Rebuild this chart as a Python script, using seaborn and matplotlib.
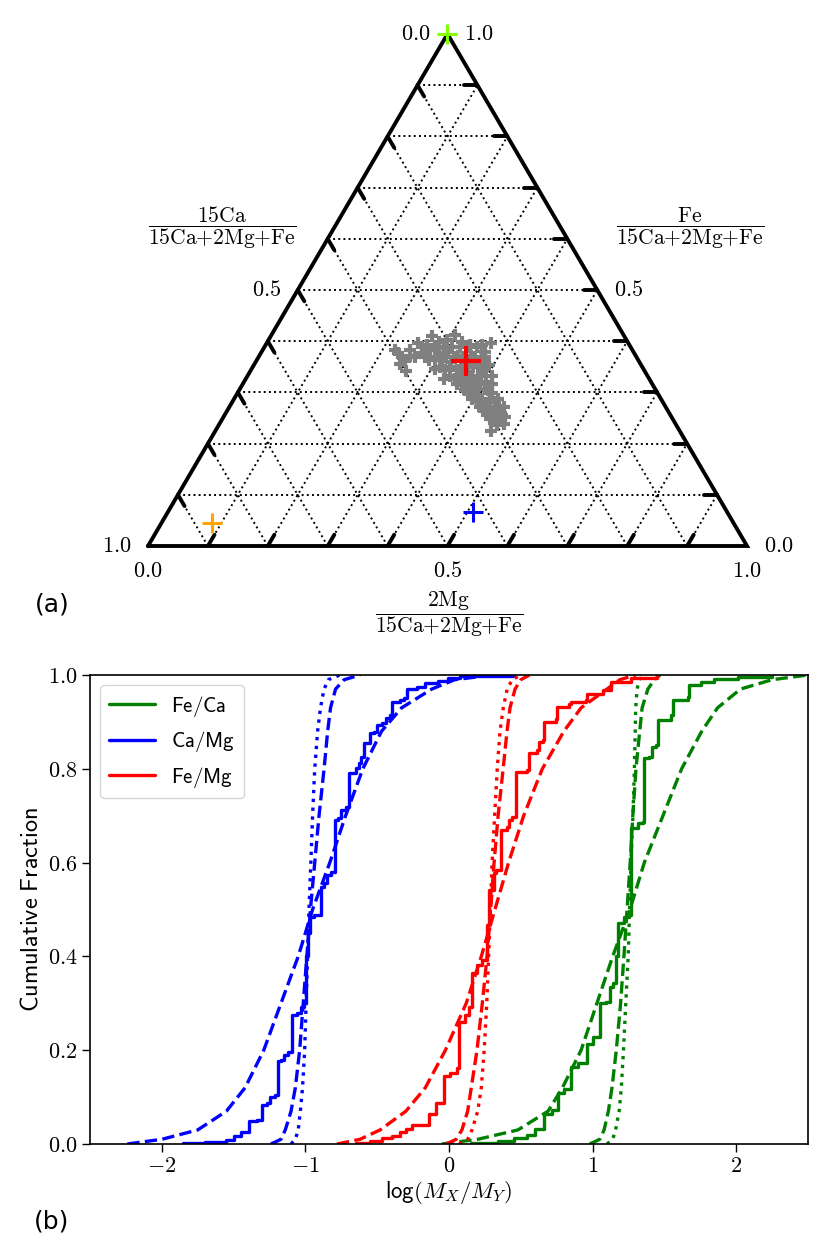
import numpy as np
import matplotlib
matplotlib.use("Agg")
import matplotlib.pyplot as plt
from matplotlib.ticker import FuncFormatter
import seaborn as sns

# ---- ternary panel: fractions of 2Mg and Fe in 15Ca+2Mg+Fe (15Ca = rest) ----
cloud_mg = [0.230, 0.249, 0.260, 0.239, 0.246, 0.253, 0.269, 0.269, 0.286, 0.298,
            0.307, 0.325, 0.342, 0.361, 0.374, 0.373, 0.269, 0.280, 0.297, 0.312,
            0.332, 0.354, 0.374, 0.287, 0.309, 0.327, 0.351, 0.373, 0.392, 0.306,
            0.324, 0.344, 0.365, 0.387, 0.407, 0.330, 0.349, 0.368, 0.387, 0.405,
            0.367, 0.385, 0.409, 0.386, 0.404, 0.425, 0.408, 0.424, 0.439, 0.427,
            0.443, 0.455, 0.447, 0.462, 0.470, 0.464, 0.474, 0.461,
            0.263, 0.285, 0.299, 0.313, 0.327, 0.340, 0.354,
            0.261, 0.278, 0.295, 0.311, 0.328, 0.342, 0.361, 0.378,
            0.313, 0.329, 0.349, 0.368, 0.388,
            0.338, 0.354, 0.374, 0.390,
            0.357, 0.376, 0.396, 0.415,
            0.377, 0.394, 0.416,
            0.397, 0.413, 0.427, 0.441,
            0.419, 0.432, 0.446, 0.458,
            0.438, 0.452, 0.463,
            0.221, 0.243, 0.251]
cloud_fe = [0.376, 0.361, 0.341, 0.369, 0.382, 0.397, 0.392, 0.410, 0.398, 0.402,
            0.412, 0.398, 0.392, 0.392, 0.397, 0.379, 0.376, 0.382, 0.376, 0.379,
            0.372, 0.372, 0.366, 0.363, 0.363, 0.359, 0.356, 0.356, 0.353, 0.346,
            0.343, 0.343, 0.340, 0.340, 0.333, 0.327, 0.327, 0.324, 0.324, 0.320,
            0.314, 0.311, 0.307, 0.298, 0.294, 0.298, 0.281, 0.278, 0.281, 0.265,
            0.262, 0.265, 0.249, 0.245, 0.252, 0.236, 0.239, 0.224,
            0.389, 0.389, 0.389, 0.389, 0.389, 0.389, 0.389,
            0.369, 0.369, 0.369, 0.369, 0.369, 0.369, 0.369, 0.369,
            0.350, 0.350, 0.350, 0.350, 0.350,
            0.333, 0.333, 0.333, 0.333,
            0.317, 0.317, 0.317, 0.317,
            0.304, 0.304, 0.304,
            0.288, 0.288, 0.288, 0.288,
            0.272, 0.272, 0.272, 0.272,
            0.255, 0.255, 0.255,
            0.382, 0.356, 0.372]

mean_mg, mean_fe = 0.350, 0.361      # red cross
blue_mg, blue_fe = 0.510, 0.066
orange_mg, orange_fe = 0.085, 0.045
lime_mg, lime_fe = 0.0, 1.0

TERN_TICKS = [0.1, 0.2, 0.3, 0.4, 0.5, 0.6, 0.7, 0.8, 0.9]
TERN_LABELS = [0.0, 0.5, 1.0]

# ---- cumulative panel ----
F_LEVELS = [0.0, 0.01, 0.03, 0.07, 0.12, 0.2, 0.3, 0.4, 0.5, 0.6, 0.7, 0.8,
            0.88, 0.93, 0.97, 0.99, 1.0]

# Fe/Ca
feca_broad = [-0.05, 0.20, 0.48, 0.69, 0.79, 0.92, 1.03, 1.14, 1.26, 1.36, 1.49,
              1.62, 1.76, 1.87, 2.03, 2.25, 2.50]
feca_narrow = [0.98, 1.05, 1.08, 1.11, 1.135, 1.165, 1.195, 1.218, 1.24, 1.262,
               1.28, 1.302, 1.328, 1.345, 1.385, 1.43, 1.47]
feca_dot = [1.10, 1.14, 1.16, 1.185, 1.20, 1.215, 1.231, 1.248, 1.258, 1.267,
            1.281, 1.291, 1.297, 1.30, 1.31, 1.325, 1.36]
feca_obs = [0.15, 0.34, 0.45, 0.546, 0.60, 0.662, 0.72, 0.762, 0.80, 0.852, 0.90,
            0.958, 1.00, 1.052, 1.09, 1.12, 1.14, 1.165, 1.175, 1.22, 1.25, 1.266,
            1.313, 1.35, 1.359, 1.394, 1.417, 1.44, 1.458, 1.545, 1.557, 1.661,
            1.673, 1.754, 1.847, 2.01, 2.25]
feca_cum = [0.002, 0.006, 0.012, 0.019, 0.033, 0.065, 0.073, 0.108, 0.118, 0.165,
            0.172, 0.214, 0.229, 0.300, 0.303, 0.335, 0.343, 0.400, 0.471, 0.485,
            0.488, 0.673, 0.684, 0.687, 0.822, 0.826, 0.847, 0.851, 0.904, 0.914,
            0.947, 0.954, 0.979, 0.986, 0.991, 0.995, 1.0]

# Ca/Mg
camg_broad = [-2.24, -2.0, -1.75, -1.55, -1.42, -1.29, -1.17, -1.05, -0.95, -0.83,
              -0.72, -0.60, -0.47, -0.33, -0.12, 0.04, 0.30]
camg_narrow = [-1.24, -1.17, -1.14, -1.10, -1.07, -1.04, -1.015, -0.99, -0.965,
               -0.935, -0.905, -0.87, -0.845, -0.825, -0.79, -0.73, -0.62]
camg_dot = [-1.10, -1.07, -1.05, -1.035, -1.02, -1.005, -0.995, -0.985, -0.975,
            -0.962, -0.95, -0.935, -0.915, -0.895, -0.87, -0.84, -0.76]
camg_obs = [-1.85, -1.70, -1.55, -1.498, -1.45, -1.394, -1.34, -1.30, -1.27, -1.247,
            -1.21, -1.19, -1.17, -1.15, -1.12, -1.091, -1.06, -1.033, -1.01, -0.999,
            -0.985, -0.965, -0.94, -0.894, -0.87, -0.85, -0.82, -0.794, -0.77,
            -0.755, -0.72, -0.697, -0.65, -0.63, -0.61, -0.592, -0.55, -0.52, -0.50,
            -0.47, -0.44, -0.41, -0.394, -0.34, -0.31, -0.295, -0.22, -0.17, -0.08,
            -0.01, 0.08, 0.45]
camg_cum = [0.002, 0.004, 0.008, 0.016, 0.026, 0.048, 0.051, 0.083, 0.087, 0.101,
            0.105, 0.176, 0.179, 0.190, 0.197, 0.275, 0.279, 0.293, 0.300, 0.40,
            0.45, 0.485, 0.488, 0.549, 0.556, 0.574, 0.581, 0.691, 0.695, 0.712,
            0.719, 0.791, 0.801, 0.812, 0.826, 0.854, 0.876, 0.879, 0.894, 0.897,
            0.908, 0.915, 0.943, 0.947, 0.950, 0.971, 0.975, 0.982, 0.988, 0.993,
            0.998, 1.0]

# Fe/Mg
femg_broad = [-0.78, -0.62, -0.48, -0.30, -0.165, -0.025, 0.12, 0.225, 0.32, 0.415,
              0.52, 0.65, 0.80, 0.92, 1.10, 1.19, 1.30]
femg_narrow = [-0.02, 0.05, 0.09, 0.13, 0.155, 0.195, 0.232, 0.265, 0.29, 0.314,
               0.342, 0.377, 0.404, 0.425, 0.46, 0.50, 0.56]
femg_dot = [0.07, 0.13, 0.16, 0.20, 0.225, 0.245, 0.263, 0.276, 0.288, 0.30,
            0.318, 0.336, 0.355, 0.378, 0.405, 0.44, 0.50]
femg_obs = [-0.65, -0.55, -0.47, -0.40, -0.34, -0.30, -0.26, -0.139, -0.09, -0.035,
            0.01, 0.058, 0.070, 0.11, 0.140, 0.163, 0.198, 0.230, 0.267, 0.279,
            0.314, 0.330, 0.360, 0.407, 0.418, 0.440, 0.465, 0.546, 0.558, 0.616,
            0.627, 0.655, 0.662, 0.743, 0.755, 0.836, 0.848, 0.953, 0.964, 1.069,
            1.127, 1.266, 1.45]
femg_cum = [0.002, 0.006, 0.012, 0.018, 0.026, 0.032, 0.040, 0.065, 0.087, 0.144,
            0.151, 0.161, 0.261, 0.275, 0.293, 0.364, 0.382, 0.392, 0.467, 0.542,
            0.577, 0.584, 0.669, 0.676, 0.691, 0.698, 0.794, 0.797, 0.833, 0.840,
            0.858, 0.861, 0.900, 0.907, 0.932, 0.939, 0.943, 0.946, 0.960, 0.968,
            0.985, 0.993, 1.0]

RATIOS = [
    ("Fe/Ca", "green", feca_obs, feca_cum, feca_broad, feca_narrow, feca_dot),
    ("Ca/Mg", "blue", camg_obs, camg_cum, camg_broad, camg_narrow, camg_dot),
    ("Fe/Mg", "red", femg_obs, femg_cum, femg_broad, femg_narrow, femg_dot),
]

sns.set_style("ticks", {"axes.edgecolor": "black", "xtick.color": "black",
                        "ytick.color": "black", "text.color": "black",
                        "axes.labelcolor": "black"})
plt.rcParams["font.family"] = ["DejaVu Sans"]
plt.rcParams["mathtext.fontset"] = "cm"

SQ3 = np.sqrt(3) / 2


def project(mg, fe):
    mg = np.asarray(mg, dtype=float)
    fe = np.asarray(fe, dtype=float)
    return mg + fe / 2, fe * SQ3


fig = plt.figure(figsize=(8.31, 12.54), dpi=100)

# ---------------- (a) ternary ----------------
ax = fig.add_axes([148 / 831, 1 - 546 / 1254, 599 / 831, 512 / 1254])
ax.set_xlim(0, 1)
ax.set_ylim(0, SQ3)
ax.axis("off")

for t in TERN_TICKS:
    # constant Fe
    x, y = project([0, 1 - t], [t, t])
    ax.plot(x, y, ls=":", color="black", lw=1.4)
    # constant Mg
    x, y = project([t, t], [0, 1 - t])
    ax.plot(x, y, ls=":", color="black", lw=1.4)
    # constant Ca
    x, y = project([1 - t, 0], [0, 1 - t])
    ax.plot(x, y, ls=":", color="black", lw=1.4)

x, y = project([0, 1, 0, 0], [0, 0, 1, 0])
ax.plot(x, y, color="black", lw=2.8, solid_joinstyle="miter", clip_on=False)

off = 0.022
for t in TERN_TICKS:
    # bottom axis (2Mg), ticks parallel to left edge
    x0, y0 = project(t, 0)
    ax.plot([x0, x0 + off * 0.5], [y0, y0 + off * SQ3], color="black", lw=2.8)
    # left axis (15Ca), ticks parallel to right edge
    x0, y0 = project(0, 1 - t)
    ax.plot([x0, x0 + off * 0.5], [y0, y0 - off * SQ3], color="black", lw=2.8)
    # right axis (Fe), horizontal ticks
    x0, y0 = project(1 - t, t)
    ax.plot([x0, x0 - off], [y0, y0], color="black", lw=2.8)

for t in TERN_LABELS:
    x0, y0 = project(t, 0)
    ax.annotate(f"${t:.1f}$", (x0, y0), xytext=(0, -18), textcoords="offset points",
                ha="center", va="center", fontsize=16, annotation_clip=False)
    x0, y0 = project(0, 1 - t)
    ax.annotate(f"${t:.1f}$", (x0, y0), xytext=(-12, 0), textcoords="offset points",
                ha="right", va="center", fontsize=16, annotation_clip=False)
    x0, y0 = project(1 - t, t)
    ax.annotate(f"${t:.1f}$", (x0, y0), xytext=(12, 0), textcoords="offset points",
                ha="left", va="center", fontsize=16, annotation_clip=False)

den = r"15\mathrm{Ca}{+}2\mathrm{Mg}{+}\mathrm{Fe}"
fig.text(222 / 831, 1 - 228 / 1254, r"$\dfrac{15\mathrm{Ca}}{" + den + "}$",
         ha="center", va="center", fontsize=15.5)
fig.text(690 / 831, 1 - 228 / 1254, r"$\dfrac{\mathrm{Fe}}{" + den + "}$",
         ha="center", va="center", fontsize=15.5)
fig.text(449 / 831, 1 - 614 / 1254, r"$\dfrac{2\mathrm{Mg}}{" + den + "}$",
         ha="center", va="center", fontsize=15.5)

cx, cy = project(cloud_mg, cloud_fe)
sns.scatterplot(x=cx, y=cy, ax=ax, marker="+", color="gray", s=80, linewidth=3,
                zorder=3)
for mg, fe, col, ms, mew in [(mean_mg, mean_fe, "red", 22, 3),
                             (blue_mg, blue_fe, "blue", 14.5, 2.2),
                             (orange_mg, orange_fe, "orange", 14.5, 2.2),
                             (lime_mg, lime_fe, "chartreuse", 14.5, 2.2)]:
    px, py = project(mg, fe)
    ax.plot(px, py, "+", color=col, ms=ms, mew=mew, clip_on=False, zorder=4)

fig.text(52 / 831, 1 - 605 / 1254, "(a)", ha="center", va="center", fontsize=18)

# ---------------- (b) cumulative fractions ----------------
ax2 = fig.add_axes([90 / 831, 1 - 1144 / 1254, 718 / 831, 469 / 1254])
for name, col, obs, cum, broad, narrow, dot in RATIOS:
    w = np.diff(np.r_[0.0, cum])
    sns.ecdfplot(x=obs, weights=w, ax=ax2, color=col, lw=2.4, label=rf"$\mathsf{{{name}}}$")
    sns.lineplot(x=broad, y=F_LEVELS, ax=ax2, color=col, lw=2.4, ls="--",
                 sort=False, estimator=None)
    sns.lineplot(x=narrow, y=F_LEVELS, ax=ax2, color=col, lw=2.4, ls="--",
                 sort=False, estimator=None)
    sns.lineplot(x=dot, y=F_LEVELS, ax=ax2, color=col, lw=2.4, ls=":",
                 sort=False, estimator=None)

ax2.set_xlim(-2.5, 2.5)
ax2.set_ylim(0, 1)
ax2.set_xticks([-2, -1, 0, 1, 2])
ax2.set_yticks([0, 0.2, 0.4, 0.6, 0.8, 1.0])
ax2.xaxis.set_major_formatter(FuncFormatter(lambda v, p: f"${v:.0f}$"))
ax2.yaxis.set_major_formatter(FuncFormatter(lambda v, p: f"${v:.1f}$"))
ax2.tick_params(labelsize=16, length=5.5, width=1)
for sp in ax2.spines.values():
    sp.set_linewidth(1.2)
ax2.set_ylabel(r"$\mathsf{Cumulative\ Fraction}$", fontsize=17.5)
ax2.set_xlabel(r"$\mathsf{log(}M_X/M_Y\mathsf{)}$", fontsize=16.5, labelpad=2)
ax2.legend(loc="upper left", fontsize=15, handlelength=2.2, frameon=True)

fig.text(52 / 831, 1 - 1222 / 1254, "(b)", ha="center", va="center", fontsize=18)

fig.savefig("out.png", dpi=100)
